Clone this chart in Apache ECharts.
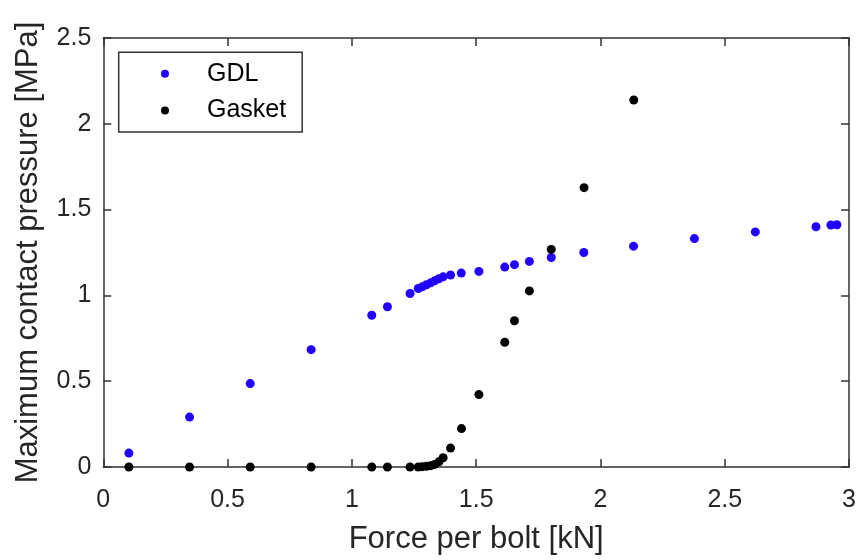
<!DOCTYPE html>
<html>
<head>
<meta charset="utf-8">
<script src="https://cdn.jsdelivr.net/npm/echarts@6/dist/echarts.min.js"></script>
<style>html,body{margin:0;padding:0;background:#fff}#c{width:859px;height:560px}</style>
</head>
<body>
<div id="c"></div>
<script>
var xTicks = [0, 0.5, 1, 1.5, 2, 2.5, 3];
var yTicks = [0, 0.5, 1, 1.5, 2, 2.5];

var forceGDL = [0.103, 0.347, 0.591, 0.836, 1.08, 1.143, 1.234, 1.267, 1.283, 1.300, 1.317, 1.333, 1.350, 1.367, 1.397, 1.44, 1.511, 1.615, 1.654, 1.714, 1.802, 1.933, 2.133, 2.378, 2.623, 2.867, 2.927, 2.951];
var pressureGDL = [0.081, 0.291, 0.486, 0.684, 0.884, 0.934, 1.011, 1.040, 1.050, 1.062, 1.073, 1.085, 1.097, 1.108, 1.119, 1.13, 1.14, 1.165, 1.179, 1.198, 1.221, 1.25, 1.287, 1.331, 1.37, 1.40, 1.41, 1.412];

var forceGasket = [0.103, 0.347, 0.591, 0.836, 1.08, 1.143, 1.234, 1.267, 1.283, 1.300, 1.317, 1.333, 1.350, 1.367, 1.397, 1.441, 1.511, 1.615, 1.654, 1.714, 1.802, 1.934, 2.134];
var pressureGasket = [0, 0, 0, 0, 0, 0, 0, 0, 0.002, 0.004, 0.008, 0.015, 0.03, 0.054, 0.11, 0.224, 0.422, 0.727, 0.852, 1.026, 1.268, 1.628, 2.139];

function pairs(xs, ys) { return xs.map(function (x, i) { return [x, ys[i]]; }); }

var textColor = '#262626';
var lineColor = '#333333';
var font = 'Liberation Sans, Arial, Helvetica, sans-serif';

function baseAxis(extra) {
  var a = {
    type: 'value',
    axisLine: { show: true, onZero: false, lineStyle: { color: lineColor, width: 1.5 } },
    axisTick: { show: true, inside: true, length: 8, lineStyle: { color: lineColor, width: 1.5 } },
    splitLine: { show: false }
  };
  for (var k in extra) a[k] = extra[k];
  return a;
}

var chart = echarts.init(document.getElementById('c'), null, { renderer: 'canvas' });
chart.setOption({
  backgroundColor: '#ffffff',
  animation: false,
  grid: { left: 103.3, right: 6, top: 38, bottom: 90, containLabel: false },
  legend: {
    orient: 'vertical',
    left: 118.7,
    top: 52.3,
    padding: [9, 16, 9, 42.3],
    itemGap: 11.7,
    itemWidth: 8,
    itemHeight: 8,
    borderColor: lineColor,
    borderWidth: 1.5,
    backgroundColor: '#ffffff',
    textStyle: { color: '#000', fontSize: 25, fontFamily: font, padding: [0, 0, 0, 33] },
    data: [{ name: 'GDL', icon: 'circle' }, { name: 'Gasket', icon: 'circle' }]
  },
  xAxis: [
    baseAxis({
      position: 'bottom', min: xTicks[0], max: xTicks[xTicks.length - 1], interval: xTicks[1] - xTicks[0],
      name: 'Force per bolt [kN]', nameLocation: 'middle', nameGap: 57,
      nameTextStyle: { color: textColor, fontSize: 31, fontFamily: font },
      axisLabel: { color: textColor, fontSize: 25, fontFamily: font, margin: 21 }
    }),
    baseAxis({
      position: 'top', min: xTicks[0], max: xTicks[xTicks.length - 1], interval: xTicks[1] - xTicks[0],
      axisLabel: { show: false }
    })
  ],
  yAxis: [
    baseAxis({
      position: 'left', min: yTicks[0], max: yTicks[yTicks.length - 1], interval: yTicks[1] - yTicks[0],
      name: 'Maximum contact pressure [MPa]', nameLocation: 'middle', nameGap: 59,
      nameTextStyle: { color: textColor, fontSize: 31, fontFamily: font },
      axisLabel: { color: textColor, fontSize: 25, fontFamily: font, margin: 12 }
    }),
    baseAxis({
      position: 'right', min: yTicks[0], max: yTicks[yTicks.length - 1], interval: yTicks[1] - yTicks[0],
      axisLabel: { show: false }
    })
  ],
  series: [
    {
      name: 'GDL', type: 'scatter', xAxisIndex: 0, yAxisIndex: 0,
      symbol: 'circle', symbolSize: 9,
      itemStyle: { color: '#2200ff', opacity: 1 },
      data: pairs(forceGDL, pressureGDL), z: 3
    },
    {
      name: 'Gasket', type: 'scatter', xAxisIndex: 0, yAxisIndex: 0,
      symbol: 'circle', symbolSize: 9,
      itemStyle: { color: '#000000', opacity: 1 },
      data: pairs(forceGasket, pressureGasket), z: 4
    }
  ]
});
</script>
</body>
</html>
